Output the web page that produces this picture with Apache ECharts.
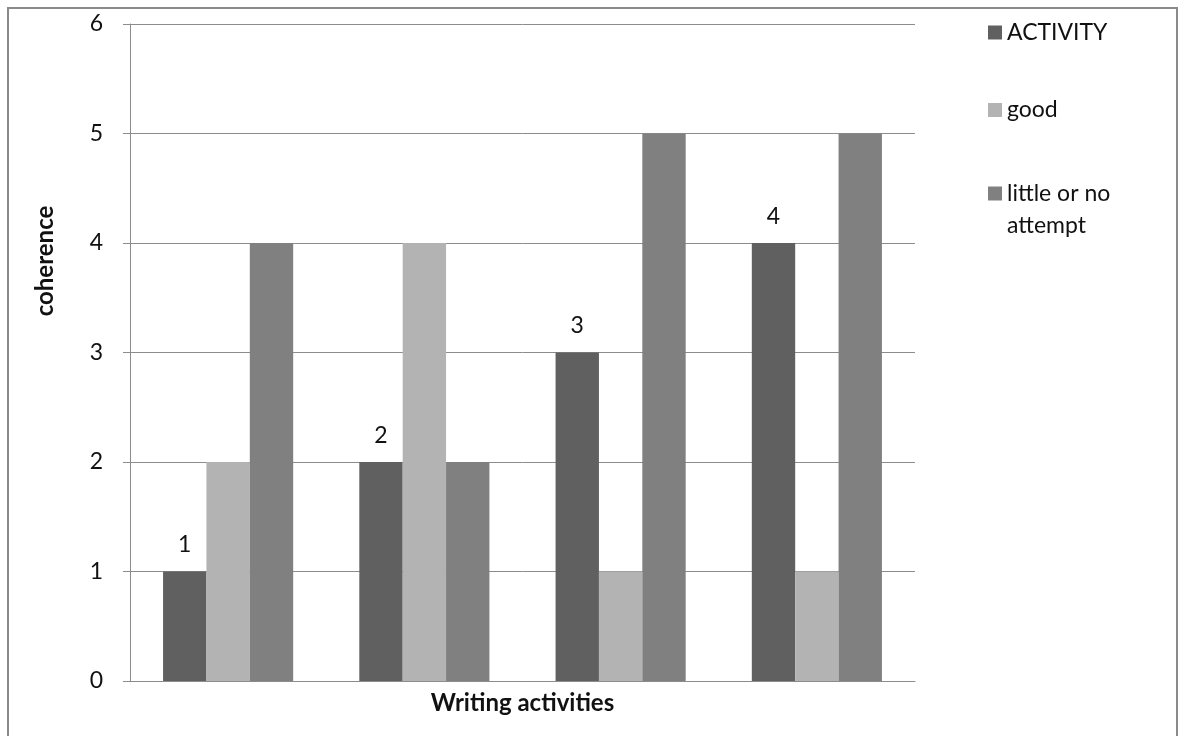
<!DOCTYPE html>
<html>
<head>
<meta charset="utf-8">
<script src="https://cdn.jsdelivr.net/npm/echarts@6/dist/echarts.min.js"></script>
<style>
  html, body { margin: 0; padding: 0; background: #fff; }
  #chart { width: 1178px; height: 736px; }
</style>
</head>
<body>
<div id="chart"></div>
<script>
// Four writing activities, three ratings each
const categories = ['', '', '', ''];
const seriesNames = ['ACTIVITY', 'good', 'little or no attempt'];
const activityValues = [1, 2, 3, 4];
const goodValues = [2, 4, 1, 1];
const littleValues = [4, 2, 5, 5];
const yTicks = { min: 0, max: 6, interval: 1 };

const FONT = 'Lato, "Open Sans", sans-serif';
const TEXT = '#111';
const GRID_COLOR = '#8c8c8c';

const chart = echarts.init(document.getElementById('chart'), null, { renderer: 'canvas' });

const legendText = {
  color: TEXT, fontFamily: FONT, fontSize: 23, lineHeight: 32,
  backgroundColor: 'rgba(0,0,0,0)'
};

chart.setOption({
  animation: false,
  backgroundColor: '#fff',
  grid: { left: 130, right: 263, top: 24, bottom: 55 },
  xAxis: {
    type: 'category',
    data: categories,
    name: 'Writing activities',
    nameLocation: 'middle',
    nameGap: 10,
    nameTextStyle: { color: TEXT, fontFamily: FONT, fontSize: 24, fontWeight: 'bold', verticalAlign: 'top' },
    axisLine: { lineStyle: { color: GRID_COLOR, width: 1 } },
    axisTick: { show: false },
    axisLabel: { show: false }
  },
  yAxis: {
    type: 'value',
    min: yTicks.min,
    max: yTicks.max,
    interval: yTicks.interval,
    axisLine: { show: true, lineStyle: { color: GRID_COLOR, width: 1 } },
    axisTick: { show: true, length: 7, lineStyle: { color: GRID_COLOR } },
    axisLabel: { color: TEXT, fontFamily: FONT, fontSize: 23, margin: 27 },
    splitLine: { lineStyle: { color: GRID_COLOR, width: 1 } }
  },
  legend: [
    {
      data: [seriesNames[0]], left: 988, top: 16.5, padding: 0, orient: 'vertical',
      icon: 'rect', itemWidth: 14, itemHeight: 14, textStyle: legendText
    },
    {
      data: [seriesNames[1]], left: 988, top: 94, padding: 0, orient: 'vertical',
      icon: 'rect', itemWidth: 14, itemHeight: 14, textStyle: legendText
    },
    {
      // leading blank line keeps the icon level with the first text line
      data: [seriesNames[2]], left: 988, top: 145.5, padding: 0, orient: 'vertical',
      icon: 'rect', itemWidth: 14, itemHeight: 14,
      formatter: () => '\nlittle or no\nattempt',
      textStyle: legendText
    }
  ],
  graphic: [
    {
      type: 'rect', silent: true, z: -10,
      shape: { x: 8, y: 8, width: 1169, height: 760 },
      style: { fill: 'none', stroke: '#8a8a8a', lineWidth: 2 }
    },
    {
      type: 'text', silent: true,
      x: 45, y: 261, rotation: Math.PI / 2,
      style: {
        text: 'coherence', fill: TEXT, font: 'bold 24px ' + FONT,
        align: 'center', verticalAlign: 'middle'
      }
    }
  ],
  series: [
    {
      name: seriesNames[0], type: 'bar', data: activityValues,
      barGap: '0%', barCategoryGap: '33.7%',
      itemStyle: { color: '#606060' },
      label: { show: true, position: 'top', distance: 15, color: TEXT, fontFamily: FONT, fontSize: 23 }
    },
    {
      name: seriesNames[1], type: 'bar', data: goodValues,
      barGap: '0%', barCategoryGap: '33.7%',
      itemStyle: { color: '#b3b3b3' }
    },
    {
      name: seriesNames[2], type: 'bar', data: littleValues,
      barGap: '0%', barCategoryGap: '33.7%',
      itemStyle: { color: '#808080' }
    }
  ]
});
</script>
</body>
</html>
